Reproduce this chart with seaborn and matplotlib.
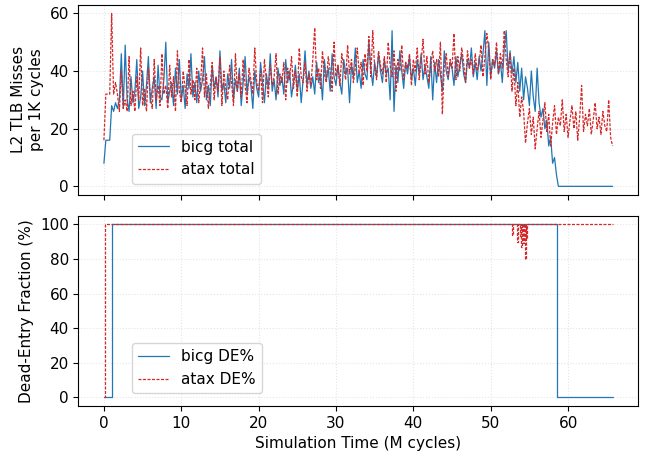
import numpy as np
import matplotlib
matplotlib.use("Agg")
import matplotlib.pyplot as plt
import seaborn as sns

# sampling interval of the top traces (M cycles)
dt = 0.25

# L2 TLB misses per 1K cycles, one value every dt
bicg_total = [
    8, 16, 16, 16, 28, 26, 29, 27, 30, 46, 27, 49, 30, 26, 38, 29,
    33, 44, 27, 31, 40, 28, 35, 45, 29, 34, 38, 27, 42, 31, 30, 37,
    50, 29, 33, 36, 28, 41, 32, 44, 30, 35, 27, 39, 34, 46, 31, 36,
    29, 40, 33, 37, 45, 30, 35, 28, 42, 34, 38, 31, 47, 33, 36, 29,
    39, 34, 44, 30, 37, 33, 41, 28, 36, 45, 32, 38, 35, 27, 40, 34,
    31, 43, 36, 29, 39, 34, 46, 33, 37, 30, 41, 35, 38, 32, 44, 36,
    40, 31, 36, 42, 33, 39, 29, 37, 47, 35, 40, 34, 38, 32, 43, 36,
    39, 30, 44, 37, 41, 33, 46, 38, 35, 42, 36, 32, 44, 39, 41, 29,
    42, 38, 48, 36, 40, 34, 44, 39, 37, 50, 41, 35, 43, 38, 46, 40,
    36, 44, 39, 41, 30, 54, 26, 42, 36, 47, 40, 34, 43, 39, 45, 37,
    41, 35, 44, 39, 46, 37, 42, 38, 34, 45, 30, 43, 36, 44, 39, 33,
    47, 40, 37, 43, 41, 35, 45, 38, 42, 46, 39, 36, 44, 41, 48, 38,
    43, 37, 45, 40, 46, 54, 35, 50, 38, 44, 41, 47, 39, 43, 36, 48,
    54, 40, 47, 39, 45, 36, 43, 33, 41, 30, 38, 34, 28, 40, 31, 26,
    41, 29, 24, 27, 20, 23, 14, 17, 8, 10, 4, 0, 0, 0, 0, 0,
    0, 0, 0, 0, 0, 0, 0, 0, 0, 0, 0, 0, 0, 0, 0, 0,
    0, 0, 0, 0, 0, 0, 0, 0,
]
atax_total = [
    16, 32, 32, 32, 60, 32, 36, 32, 26, 40, 27, 30, 26, 45, 28, 33,
    26, 38, 30, 48, 28, 34, 26, 41, 31, 27, 44, 30, 35, 28, 46, 32,
    35, 27, 42, 31, 38, 26, 47, 33, 29, 40, 34, 28, 44, 32, 37, 30,
    41, 29, 36, 48, 31, 39, 27, 35, 43, 30, 38, 33, 45, 28, 40, 34,
    30, 42, 36, 28, 46, 33, 39, 31, 44, 35, 29, 41, 37, 32, 48, 36,
    33, 40, 29, 44, 37, 31, 42, 35, 38, 46, 32, 39, 36, 43, 30, 41,
    37, 45, 34, 40, 31, 48, 38, 36, 43, 33, 39, 35, 44, 55, 37, 41,
    34, 47, 39, 36, 45, 40, 33, 50, 38, 42, 35, 46, 41, 37, 49, 39,
    44, 36, 41, 48, 39, 43, 35, 46, 40, 52, 38, 54, 41, 37, 47, 42,
    39, 45, 36, 50, 42, 38, 47, 33, 44, 40, 49, 37, 43, 41, 46, 35,
    44, 40, 48, 37, 43, 51, 39, 45, 36, 42, 47, 40, 44, 38, 50, 25,
    42, 46, 38, 44, 41, 53, 37, 45, 40, 48, 43, 36, 47, 41, 44, 39,
    46, 40, 43, 49, 38, 45, 53, 47, 37, 44, 42, 50, 39, 46, 41, 54,
    44, 38, 46, 33, 41, 28, 36, 24, 31, 26, 15, 22, 27, 18, 24, 13,
    20, 26, 17, 23, 29, 19, 25, 14, 22, 28, 18, 24, 21, 30, 19, 25,
    17, 23, 28, 20, 26, 16, 24, 35, 19, 25, 21, 27, 18, 23, 29, 20,
    24, 18, 26, 21, 19, 30, 17, 14,
]

# dead-entry fraction (%), stored as change points (step-post)
bicg_de_t = [0, 1.1, 58.6, 65.75]
bicg_de = [0, 100, 0, 0]
atax_de_t = [0, 0.1, 52.75, 52.9, 53.45, 53.55, 53.75, 53.85, 53.95, 54.05,
             54.2, 54.3, 54.4, 54.5, 54.6, 54.7, 65.75]
atax_de = [0, 100, 94, 100, 90, 100, 93, 100, 87, 100,
           89, 100, 80, 100, 92, 100, 100]

t = np.arange(len(bicg_total)) * dt

sns.set_style("ticks", rc={"axes.edgecolor": "black", "xtick.color": "black",
                           "ytick.color": "black", "text.color": "black",
                           "axes.labelcolor": "black"})
plt.rcParams["font.family"] = ["DejaVu Sans"]
plt.rcParams["font.size"] = 11

blue = "#1f77b4"
red = "#d62728"
lw = 0.9
dash = (0, (2.4, 1.2))

fig, (ax1, ax2) = plt.subplots(2, 1, figsize=(6.46, 4.54), dpi=100, sharex=True)
fig.subplots_adjust(left=0.1215, right=0.9876, top=0.9896, bottom=0.1057, hspace=0.109)

sns.lineplot(x=t, y=bicg_total, ax=ax1, color=blue, lw=lw,
             estimator=None, sort=False, label="bicg total")
sns.lineplot(x=t, y=atax_total, ax=ax1, color=red, lw=lw, linestyle=dash,
             estimator=None, sort=False, label="atax total")
ax1.set_ylabel("L2 TLB Misses\nper 1K cycles")
ax1.set_yticks([0, 20, 40, 60])
ax1.grid(True, linestyle=":", alpha=0.5)
ax1.legend(loc="lower left", bbox_to_anchor=(0.0956, 0.06), borderaxespad=0)

sns.lineplot(x=bicg_de_t, y=bicg_de, ax=ax2, color=blue, lw=lw, drawstyle="steps-post",
             estimator=None, sort=False, label="bicg DE%")
sns.lineplot(x=atax_de_t, y=atax_de, ax=ax2, color=red, lw=lw, linestyle=dash,
             drawstyle="steps-post", estimator=None, sort=False, label="atax DE%")
ax2.set_ylabel("Dead-Entry Fraction (%)")
ax2.set_xlabel("Simulation Time (M cycles)")
ax2.set_yticks([0, 20, 40, 60, 80, 100])
ax2.set_xticks([0, 10, 20, 30, 40, 50, 60])
ax2.grid(True, linestyle=":", alpha=0.5)
ax2.legend(loc="lower left", bbox_to_anchor=(0.0956, 0.068), borderaxespad=0)

fig.savefig("out.png", dpi=100)
